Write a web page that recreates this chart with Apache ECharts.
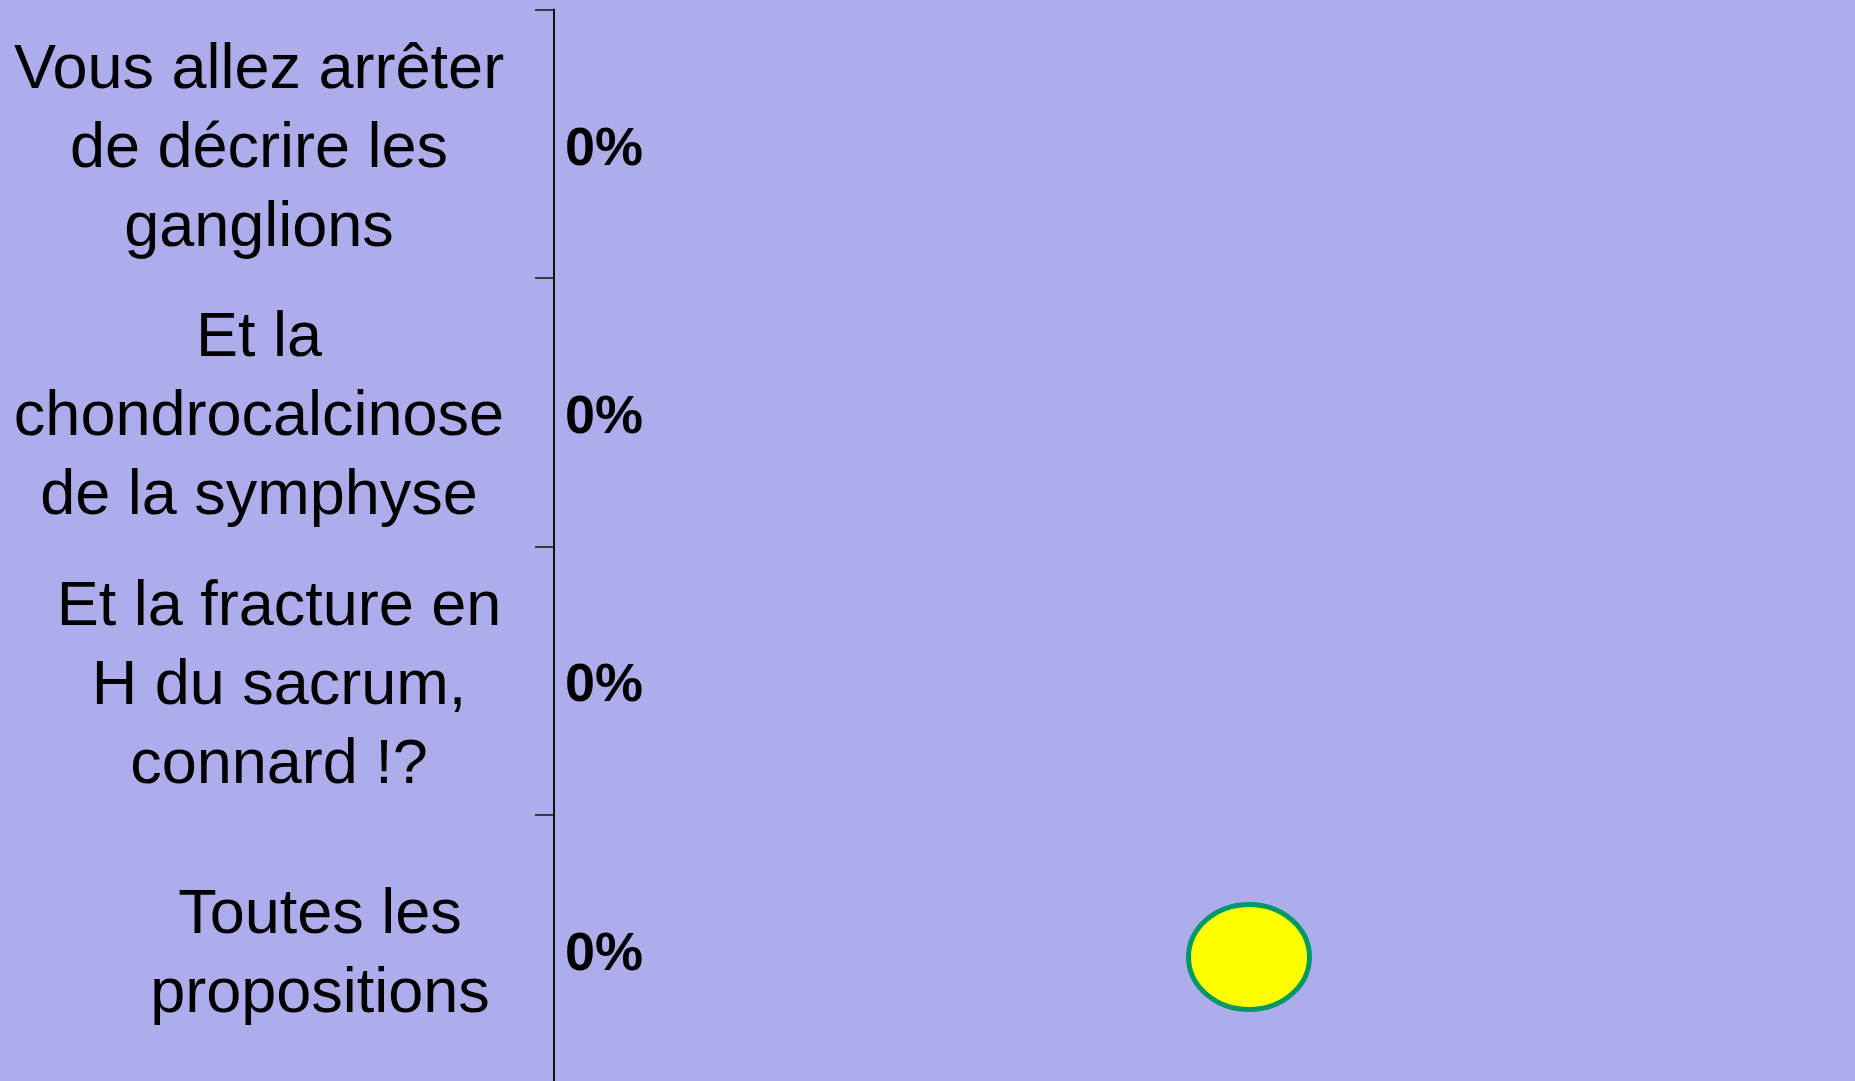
<!DOCTYPE html>
<html>
<head>
<meta charset="utf-8">
<script src="https://cdn.jsdelivr.net/npm/echarts@6/dist/echarts.min.js"></script>
<style>
html,body{margin:0;padding:0;background:#ADADEB;}
#chart{width:1855px;height:1081px;}
</style>
</head>
<body>
<div id="chart"></div>
<script>
var categories = [
  "Vous allez arrêter\nde décrire les\nganglions",
  "Et la\nchondrocalcinose\nde la symphyse",
  "Et la fracture en\nH du sacrum,\nconnard !?",
  "Toutes les\npropositions"
];
var values = [0, 0, 0, 0];

var labelPads = [[0,0,0,0],[0,0,0,0],[0,0,0,40],[0,0,0,122]];

var FONT = 'Liberation Sans, Arial, sans-serif';
var richDef = {
  s: {fontSize: 4, lineHeight: 12, color: 'transparent'},
  t: {fontSize: 63, lineHeight: 79, color: '#000', fontFamily: FONT}
};

var chart = echarts.init(document.getElementById('chart'));
chart.setOption({
  backgroundColor: '#ADADEB',
  animation: false,
  grid: {left: 554, top: 9.5, right: 0, bottom: -2, containLabel: false, outerBoundsMode: 'none'},
  xAxis: {
    type: 'value', min: 0, max: 100, show: false,
    splitLine: {show: false}
  },
  yAxis: {
    type: 'category',
    inverse: true,
    data: categories.map(function (c, i) {
      return {value: c, textStyle: {
        padding: labelPads[i], align: 'center', verticalAlign: 'middle',
        color: '#000', fontFamily: FONT,
        fontSize: 63, lineHeight: 79, rich: richDef
      }};
    }),
    axisLine: {show: true, lineStyle: {color: '#111', width: 2}},
    axisTick: {show: true, length: 19, alignWithLabel: false, lineStyle: {color: '#111', width: 1.5}},
    axisLabel: {
      margin: 295,
      align: 'center',
      color: '#000',
      fontFamily: FONT,
      fontSize: 63,
      lineHeight: 79,
      rich: richDef,
      formatter: function (v) {
        return '{s| }\n' + v.split('\n').map(function (l) { return '{t|' + l + '}'; }).join('\n');
      }
    }
  },
  series: [{
    type: 'bar',
    data: values,
    barWidth: '50%',
    itemStyle: {color: '#3333CC'},
    label: {
      show: true,
      position: 'right',
      distance: 11,
      offset: [0, 6],
      formatter: '{c}%',
      color: '#000',
      fontFamily: FONT,
      fontWeight: 'bold',
      fontSize: 54
    }
  }],
  graphic: [{
    type: 'ellipse',
    shape: {cx: 1249, cy: 957, rx: 60.5, ry: 52.5},
    style: {fill: '#FFFF00', stroke: '#009966', lineWidth: 5}
  }]
});
</script>
</body>
</html>
